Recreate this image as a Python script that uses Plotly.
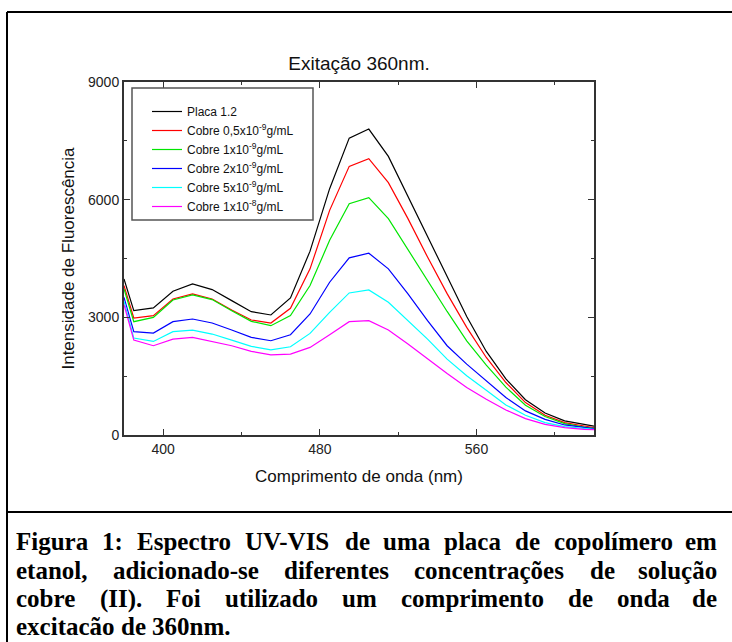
import plotly.graph_objects as go

# ---------------- data ----------------
wavelength = [380, 385, 395, 405, 415, 425, 435, 445, 455, 465, 475, 485, 495,
              505, 515, 525, 535, 545, 555, 565, 575, 585, 595, 605, 615, 620]
placa = [3980, 3170, 3240, 3665, 3852, 3707, 3426, 3145, 3060, 3494, 4688, 6280, 7570,
         7800, 7104, 6077, 5040, 4028, 3020, 2131, 1430, 900, 560, 360, 260, 225]
cobre_05 = [3810, 2983, 3043, 3469, 3597, 3469, 3188, 2932, 2855, 3230, 4236, 5727, 6849,
            7045, 6434, 5516, 4537, 3604, 2744, 1977, 1338, 827, 503, 315, 230, 190]
cobre_1 = [3725, 2889, 3000, 3443, 3571, 3452, 3170, 2898, 2787, 3043, 3810, 4963, 5898,
           6052, 5516, 4716, 3918, 3150, 2400, 1780, 1220, 760, 470, 290, 200, 170]
cobre_2 = [3511, 2634, 2600, 2889, 2957, 2855, 2676, 2489, 2403, 2557, 3085, 3895, 4517,
           4636, 4236, 3597, 2915, 2276, 1807, 1381, 955, 614, 400, 256, 188, 160]
cobre_5 = [3409, 2472, 2386, 2634, 2676, 2574, 2420, 2259, 2173, 2250, 2591, 3128, 3622,
           3699, 3384, 2915, 2446, 1935, 1509, 1142, 767, 503, 315, 213, 162, 145]
cobre_10 = [3324, 2421, 2276, 2446, 2489, 2378, 2276, 2131, 2045, 2063, 2233, 2557, 2889,
            2915, 2676, 2318, 1935, 1568, 1210, 912, 639, 418, 273, 188, 145, 136]

series = [placa, cobre_05, cobre_1, cobre_2, cobre_5, cobre_10]
names = ["Placa 1.2",
         "Cobre 0,5x10<sup>-9</sup>g/mL",
         "Cobre 1x10<sup>-9</sup>g/mL",
         "Cobre 2x10<sup>-9</sup>g/mL",
         "Cobre 5x10<sup>-9</sup>g/mL",
         "Cobre 1x10<sup>-8</sup>g/mL"]
colors = ["#000000", "#ff0000", "#00e600", "#0000ff", "#00ffff", "#ff00ff"]

x_ticks = [400, 480, 560]
y_ticks = [0, 3000, 6000, 9000]

title_text = "Exitação 360nm."
x_title = "Comprimento de onda (nm)"
y_title = "Intensidade de Fluorescência"

caption_lines = [
    "Figura 1: Espectro UV-VIS de uma placa de copolímero em",
    "etanol, adicionado-se diferentes concentrações de solução",
    "cobre (II). Foi utilizado um comprimento de onda de",
    "excitacão de 360nm.",
]

# ---------------- layout geometry ----------------
W, H = 732, 642
ML, MR, MT, MB = 124, 138, 82, 207
PW = W - ML - MR
PH = H - MT - MB


def px2x(px):
    return (px - ML) / PW


def py2y(py):
    return (H - MB - py) / PH


fig = go.Figure()
for vals, nm, col in zip(series, names, colors):
    fig.add_trace(go.Scatter(x=wavelength, y=vals, mode="lines", name=nm,
                             line=dict(color=col, width=1.2)))

axis_common = dict(
    showgrid=False, zeroline=False, showline=True, linecolor="#333333", linewidth=2,
    mirror="ticks", ticks="inside", ticklen=6, tickwidth=1.2, tickcolor="#333333",
    tickfont=dict(family="Liberation Sans", size=14, color="#222222"),
)

fig.update_xaxes(range=[380, 620], tickvals=x_ticks,
                 minor=dict(dtick=40, tick0=400, ticks="inside", ticklen=3,
                            tickwidth=1.2, tickcolor="#333333"),
                 title=dict(text=x_title, standoff=14,
                            font=dict(family="Liberation Sans", size=17, color="#111111")),
                 **axis_common)
fig.update_yaxes(range=[0, 9000], tickvals=y_ticks,
                 minor=dict(dtick=1500, tick0=0, ticks="inside", ticklen=3,
                            tickwidth=1.2, tickcolor="#333333"),
                 title=dict(text=y_title, standoff=9,
                            font=dict(family="Liberation Sans", size=17, color="#111111")),
                 **axis_common)

# caption: justified bold serif text, word by word (Times-Bold metrics)
TB = {' ': 250, '(': 333, ')': 333, ',': 250, '-': 333, '.': 250, ':': 333,
      'E': 667, 'F': 611, 'I': 389, 'S': 556, 'U': 722, 'V': 722,
      'a': 500, 'b': 556, 'c': 444, 'd': 556, 'e': 444, 'f': 333, 'g': 500, 'h': 556,
      'i': 278, 'j': 333, 'k': 556, 'l': 278, 'm': 833, 'n': 556, 'o': 500, 'p': 556,
      'q': 556, 'r': 444, 's': 389, 't': 333, 'u': 556, 'v': 500, 'w': 722, 'x': 500,
      'y': 500, 'z': 444, 'ç': 444, 'ã': 500, 'õ': 500, 'í': 278, 'ó': 500}
CAP_FS = 25
CAP_L, CAP_R = 15, 718
cap_y = [541, 570, 598.5, 626.5]


def wpx(word):
    return sum(TB.get(ch, 500) for ch in word) * CAP_FS / 1000.0


annotations = []
for i, line in enumerate(caption_lines):
    words = line.split(" ")
    widths = [wpx(w) for w in words]
    if i < len(caption_lines) - 1 and len(words) > 1:
        gap = (CAP_R - CAP_L - sum(widths)) / (len(words) - 1)
    else:
        gap = 250 * CAP_FS / 1000.0
    xpos = CAP_L
    for j, (w, wd) in enumerate(zip(words, widths)):
        last = (i < len(caption_lines) - 1) and j == len(words) - 1
        annotations.append(dict(
            text=w, xref="paper", yref="paper",
            x=px2x(CAP_R if last else xpos), y=py2y(cap_y[i]),
            xanchor="right" if last else "left", yanchor="middle", showarrow=False,
            borderpad=0,
            font=dict(family="Liberation Serif", size=CAP_FS, color="#000000",
                      weight="bold")))
        xpos += wd + gap

shapes = [
    # outer frame (top, left) and caption divider
    dict(type="line", xref="paper", yref="paper", x0=px2x(7), x1=px2x(740),
         y0=py2y(12), y1=py2y(12), line=dict(color="#000", width=2)),
    dict(type="line", xref="paper", yref="paper", x0=px2x(7), x1=px2x(7),
         y0=py2y(12), y1=py2y(650), line=dict(color="#000", width=2)),
    dict(type="line", xref="paper", yref="paper", x0=px2x(7), x1=px2x(740),
         y0=py2y(512), y1=py2y(512), line=dict(color="#000", width=2)),
    # legend box
    dict(type="rect", xref="paper", yref="paper", x0=px2x(132), x1=px2x(313),
         y0=py2y(220), y1=py2y(88), line=dict(color="#555555", width=1.5),
         fillcolor="rgba(0,0,0,0)"),
]

fig.update_layout(
    width=W, height=H, margin=dict(l=ML, r=MR, t=MT, b=MB, pad=0),
    paper_bgcolor="white", plot_bgcolor="white",
    title=dict(text=title_text, x=0.5, xref="paper", xanchor="center",
               y=1 - 63 / H, yref="container", yanchor="middle",
               font=dict(family="Liberation Sans", size=19, color="#111111")),
    showlegend=True,
    legend=dict(x=px2x(147), y=py2y(97), xanchor="left", yanchor="top",
                bgcolor="rgba(0,0,0,0)", borderwidth=0, itemwidth=30,
                font=dict(family="Liberation Sans", size=12, color="#111111"),
                tracegroupgap=0),
    shapes=shapes,
    annotations=annotations,
)

fig.write_html("out.html", config={"displayModeBar": False},
               post_script="document.body.style.margin='0';document.body.style.padding='0';")
